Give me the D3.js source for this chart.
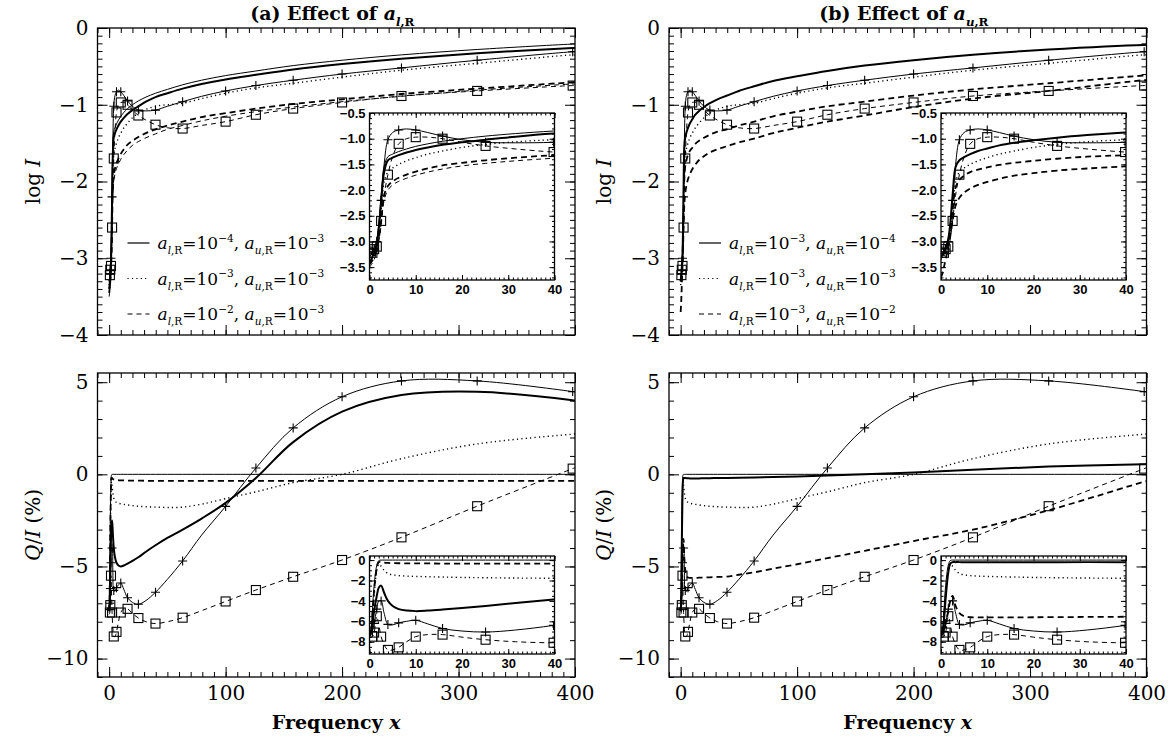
<!DOCTYPE html>
<html>
<head>
<meta charset="utf-8">
<script src="https://cdn.jsdelivr.net/npm/d3@7"></script>
<style>body{margin:0;background:#fff}</style>
</head>
<body>
<div id="chart"></div>
<script>
// frequency grid shared by all curves
const freq = [0,0.4,0.63,1,1.58,2,2.51,3.16,3.98,5,6.31,8,10,12.6,15.8,20,25.1,31.6,39.8,50,63.1,79.4,100,126,158,200,251,316,398,400];
// frequencies that carry a + or square symbol
const markFreq = [0.63,1,1.58,2.51,3.98,6.31,10,15.8,25.1,39.8,63.1,100,126,158,200,251,316,398];

// log I
const logPlus   = [-3.3,-3.25,-3.2,-3.15,-3.0,-2.7,-2.2,-1.5,-1.02,-0.88,-0.83,-0.81,-0.83,-0.88,-0.95,-1.02,-1.07,-1.08,-1.07,-1.02,-0.96,-0.89,-0.82,-0.75,-0.68,-0.6,-0.52,-0.42,-0.31,-0.31];
const logSquare = [-3.3,-3.25,-3.22,-3.15,-3.1,-2.95,-2.6,-2.1,-1.7,-1.35,-1.1,-1.0,-0.97,-0.97,-1.0,-1.07,-1.14,-1.2,-1.26,-1.3,-1.31,-1.27,-1.22,-1.13,-1.05,-0.97,-0.886,-0.82,-0.75,-0.75];
const logDotted = [-3.35,-3.3,-3.28,-3.22,-3.1,-2.85,-2.4,-1.85,-1.65,-1.57,-1.5,-1.43,-1.37,-1.3,-1.24,-1.17,-1.11,-1.06,-1.02,-1.0,-0.98,-0.92,-0.85,-0.78,-0.72,-0.64,-0.55,-0.46,-0.35,-0.35];
const logSolidA = [-3.4,-3.35,-3.3,-3.22,-3.05,-2.75,-2.25,-1.65,-1.42,-1.37,-1.32,-1.27,-1.22,-1.17,-1.12,-1.07,-1.02,-0.96,-0.9,-0.85,-0.79,-0.73,-0.67,-0.61,-0.54,-0.47,-0.4,-0.33,-0.26,-0.26];
const logThinA  = [-3.3,-3.25,-3.2,-3.12,-2.95,-2.65,-2.1,-1.55,-1.35,-1.3,-1.25,-1.2,-1.15,-1.1,-1.05,-1.0,-0.95,-0.9,-0.85,-0.8,-0.74,-0.68,-0.62,-0.56,-0.49,-0.42,-0.35,-0.28,-0.21,-0.21];
const logDashA  = [-3.45,-3.4,-3.37,-3.3,-3.15,-2.95,-2.6,-2.1,-1.92,-1.83,-1.76,-1.7,-1.64,-1.58,-1.52,-1.47,-1.42,-1.37,-1.32,-1.27,-1.22,-1.16,-1.11,-1.05,-0.99,-0.93,-0.86,-0.79,-0.71,-0.71];
const logDashA2 = [-3.5,-3.45,-3.42,-3.35,-3.2,-3.0,-2.7,-2.2,-2.0,-1.9,-1.83,-1.77,-1.71,-1.65,-1.59,-1.53,-1.48,-1.43,-1.38,-1.32,-1.27,-1.21,-1.15,-1.09,-1.03,-0.96,-0.89,-0.81,-0.73,-0.73];
const logSolidB = [-3.3,-3.25,-3.2,-3.12,-2.95,-2.65,-2.1,-1.55,-1.42,-1.36,-1.3,-1.24,-1.19,-1.13,-1.08,-1.03,-0.98,-0.93,-0.88,-0.82,-0.76,-0.69,-0.63,-0.56,-0.49,-0.42,-0.35,-0.28,-0.22,-0.22];
const logDashB1 = [-3.3,-3.25,-3.22,-3.15,-3.0,-2.75,-2.4,-1.95,-1.8,-1.72,-1.65,-1.6,-1.56,-1.51,-1.47,-1.43,-1.39,-1.35,-1.32,-1.27,-1.22,-1.15,-1.09,-1.02,-0.96,-0.88,-0.8,-0.72,-0.62,-0.62];
const logDashB2 = [-3.7,-3.6,-3.5,-3.35,-3.1,-2.9,-2.6,-2.3,-2.15,-2.05,-1.97,-1.9,-1.84,-1.78,-1.72,-1.67,-1.62,-1.58,-1.54,-1.49,-1.44,-1.37,-1.3,-1.22,-1.14,-1.03,-0.92,-0.82,-0.68,-0.68];

// Q/I (%)
const qiPlus   = [-7.5,-7.3,-7.0,-6.2,-4.8,-4.0,-4.0,-5.2,-6.3,-6.35,-6.15,-6.0,-5.9,-6.25,-6.7,-6.95,-7.05,-6.85,-6.4,-5.7,-4.7,-3.3,-1.74,0.34,2.52,4.21,5.07,5.07,4.49,4.47];
const qiSquare = [-7.6,-7.55,-7.5,-7.1,-5.5,-6.3,-7.5,-8.3,-8.8,-8.8,-8.55,-8.0,-7.5,-7.3,-7.3,-7.55,-7.8,-8.0,-8.1,-8.0,-7.78,-7.4,-6.9,-6.28,-5.56,-4.65,-3.42,-1.73,0.31,0.36];
const qiDotted = [-7.4,-7.0,-6.0,-3.5,-1.0,-0.4,-0.6,-1.0,-1.3,-1.45,-1.52,-1.57,-1.6,-1.63,-1.66,-1.7,-1.73,-1.76,-1.78,-1.8,-1.78,-1.62,-1.32,-0.95,-0.45,0.0,0.85,1.65,2.18,2.19];
const qiZero   = [-7.4,-6.5,-5.0,-2.5,-0.5,-0.05,0,0,0,0,0,0,0,0,0,0,0,0,0,0,0,0,0,0,0,0,0,0,0,0];
const qiSolidA = [-7.4,-7.0,-6.3,-5.0,-3.5,-2.7,-2.5,-3.2,-4.0,-4.5,-4.8,-4.95,-5.0,-4.95,-4.85,-4.7,-4.5,-4.2,-3.85,-3.45,-3.0,-2.4,-1.55,-0.2,1.75,3.4,4.3,4.48,4.02,4.0];
const qiDashA  = [-7.4,-6.8,-5.5,-3.0,-0.8,-0.2,-0.2,-0.25,-0.28,-0.3,-0.31,-0.32,-0.33,-0.33,-0.34,-0.34,-0.34,-0.35,-0.35,-0.35,-0.35,-0.35,-0.35,-0.35,-0.35,-0.35,-0.35,-0.35,-0.35,-0.35];
const qiSolidB = [-7.4,-7.0,-6.0,-3.8,-1.2,-0.35,-0.2,-0.2,-0.2,-0.21,-0.21,-0.22,-0.22,-0.22,-0.22,-0.21,-0.21,-0.2,-0.2,-0.19,-0.17,-0.15,-0.12,-0.07,0.0,0.1,0.25,0.42,0.55,0.55];
const qiDashB  = [-7.4,-7.1,-6.8,-6.2,-5.0,-4.0,-3.5,-4.5,-5.2,-5.5,-5.6,-5.62,-5.62,-5.62,-5.61,-5.6,-5.59,-5.57,-5.55,-5.45,-5.32,-5.12,-4.88,-4.55,-4.15,-3.62,-3.0,-1.95,-0.4,-0.37];

// legend exponents
const legendA = [["−4","−3"],["−3","−3"],["−2","−3"]];
const legendB = [["−3","−4"],["−3","−3"],["−3","−2"]];

const styles = {
  thin:   {w: 1, dash: null},
  thick:  {w: 2, dash: null},
  dotted: {w: 1.4, dash: "1.2,3.2"},
  dashed: {w: 1.8, dash: "6,4"},
  thinDash: {w: 1, dash: "5,4"}
};

const svg = d3.select("#chart").append("svg")
    .attr("width", 1171).attr("height", 739)
    .style("font-family", "DejaVu Serif");
svg.append("rect").attr("width", 1171).attr("height", 739).attr("fill", "#fff");

const colLeft = [97.5, 669], plotW = 477.5;
const rowTop = [28, 373], rowH = [307, 304];
const insetDX = 272, insetW = 185, insetTop = [113, 556], insetH = [167, 98];

function rich(sel, parts, size) {
  let shift = 0;
  parts.forEach(([t, k]) => {
    const ts = sel.append("tspan").text(t);
    let target = 0;
    if (k.sub) target = size * 0.3;
    if (k.sup) target = -size * 0.42;
    ts.attr("dy", target - shift);
    shift = target;
    if (k.sub || k.sup) ts.attr("font-size", size * 0.62);
    if (k.i) ts.attr("font-style", "italic");
    if (k.b) ts.attr("font-weight", "bold");
  });
}

let clipId = 0;
function drawSeries(g, x, y, w, h, series) {
  const id = "clip" + (clipId++);
  g.append("clipPath").attr("id", id).append("rect").attr("width", w).attr("height", h);
  const cg = g.append("g").attr("clip-path", `url(#${id})`);
  const line = d3.line().x(d => x(d[0])).y(d => y(d[1])).curve(d3.curveCatmullRom.alpha(0.5));
  const marks = new Set(markFreq);
  series.forEach(s => {
    const pts = freq.map((f, i) => [f, s.v[i]]);
    const st = styles[s.style];
    cg.append("path").attr("d", line(pts)).attr("fill", "none")
      .attr("stroke", "#000").attr("stroke-width", st.w)
      .attr("stroke-dasharray", st.dash);
    if (s.mark) {
      const mp = pts.filter(p => marks.has(p[0]));
      if (s.mark === "plus") {
        cg.selectAll(null).data(mp).join("path")
          .attr("d", d => `M${x(d[0]) - 4.5},${y(d[1])}h9M${x(d[0])},${y(d[1]) - 4.5}v9`)
          .attr("stroke", "#000").attr("stroke-width", 1.1);
      } else {
        cg.selectAll(null).data(mp).join("rect")
          .attr("x", d => x(d[0]) - 4.5).attr("y", d => y(d[1]) - 4.5)
          .attr("width", 9).attr("height", 9)
          .attr("fill", "none").attr("stroke", "#000").attr("stroke-width", 1.1);
      }
    }
  });
}

function addAxes(g, x, y, w, h, c) {
  const mk = (axis, vals, len, tr, lab, pad, fmt) => {
    axis.tickValues(vals).tickSize(-len).tickSizeOuter(0).tickPadding(pad || 3);
    axis.tickFormat(lab ? fmt : "");
    const s = g.append("g").attr("transform", tr).call(axis);
    s.select(".domain").remove();
    s.selectAll("line").attr("stroke", "#000").attr("stroke-width", 1);
    s.selectAll("text").attr("fill", "#000").style("font-family", c.font)
      .style("font-size", c.size + "px").style("font-weight", c.weight || "normal");
    return s;
  };
  [[c.xMin, c.minLen], [c.xMaj, c.majLen]].forEach(([v, l], k) => {
    mk(d3.axisBottom(x), v, l, `translate(0,${h})`, k === 1 && c.xLab, c.xPad, c.xFmt);
    mk(d3.axisTop(x), v, l, `translate(0,0)`, false);
  });
  [[c.yMin, c.minLen], [c.yMaj, c.majLen]].forEach(([v, l], k) => {
    mk(d3.axisLeft(y), v, l, `translate(0,0)`, k === 1, c.yPad, c.yFmt);
    mk(d3.axisRight(y), v, l, `translate(${w},0)`, false);
  });
  g.append("rect").attr("width", w).attr("height", h)
    .attr("fill", "none").attr("stroke", "#000").attr("stroke-width", 1.3);
}

function panel(left, top, w, h, xDom, yDom, series, c, inset) {
  const g = svg.append("g").attr("transform", `translate(${left},${top})`);
  const x = d3.scaleLinear().domain(xDom).range([0, w]);
  const y = d3.scaleLinear().domain(yDom).range([h, 0]);
  if (inset) g.append("rect").attr("width", w).attr("height", h).attr("fill", "#fff");
  drawSeries(g, x, y, w, h, series);
  addAxes(g, x, y, w, h, c);
  return g;
}

const mainX = {xMaj: [0,100,200,300,400], xMin: d3.range(-10, 401, 10), majLen: 10, minLen: 5,
  font: "DejaVu Serif", size: 20, xPad: 9, yPad: 9, xFmt: d3.format("d"), yFmt: d3.format("d")};
const topCfg = {...mainX, xLab: false, yMaj: [-4,-3,-2,-1,0], yMin: d3.range(-40, 1, 1).map(v => v / 10)};
const botCfg = {...mainX, xLab: true, yMaj: [-10,-5,0,5], yMin: d3.range(-11, 6, 1)};
const insX = {xMaj: [0,10,20,30,40], xMin: d3.range(0, 41, 1), majLen: 5, minLen: 2.5,
  font: "Liberation Sans", size: 13, weight: "bold", xLab: true, xPad: 5, yPad: 4, xFmt: d3.format("d")};
const insTop = {...insX, yMaj: [-3.5,-3,-2.5,-2,-1.5,-1,-0.5], yMin: d3.range(-37, -4, 1).map(v => v / 10), yFmt: d3.format(".1f")};
const insBot = {...insX, yMaj: [-8,-6,-4,-2,0], yMin: d3.range(-18, 1, 1).map(v => v / 2), yFmt: d3.format("d")};

const topSeries = [
  [
    {v: logPlus, style: "thin", mark: "plus"},
    {v: logSquare, style: "thinDash", mark: "square"},
    {v: logThinA, style: "thin"},
    {v: logSolidA, style: "thick"},
    {v: logDotted, style: "dotted"},
    {v: logDashA, style: "dashed"},
    {v: logDashA2, style: "thinDash"}
  ],
  [
    {v: logPlus, style: "thin", mark: "plus"},
    {v: logSquare, style: "thinDash", mark: "square"},
    {v: logSolidB, style: "thick"},
    {v: logDotted, style: "dotted"},
    {v: logDashB1, style: "dashed"},
    {v: logDashB2, style: "dashed"}
  ]
];
const botSeries = [
  [
    {v: qiZero, style: "thin"},
    {v: qiPlus, style: "thin", mark: "plus"},
    {v: qiSquare, style: "thinDash", mark: "square"},
    {v: qiSolidA, style: "thick"},
    {v: qiDotted, style: "dotted"},
    {v: qiDashA, style: "dashed"}
  ],
  [
    {v: qiZero, style: "thin"},
    {v: qiPlus, style: "thin", mark: "plus"},
    {v: qiSquare, style: "thinDash", mark: "square"},
    {v: qiSolidB, style: "thick"},
    {v: qiDotted, style: "dotted"},
    {v: qiDashB, style: "dashed"}
  ]
];

[0, 1].forEach(col => {
  const L = colLeft[col];
  panel(L, rowTop[0], plotW, rowH[0], [-10, 400], [-4, 0], topSeries[col], topCfg);
  panel(L + insetDX, insetTop[0], insetW, insetH[0], [0, 40], [-3.75, -0.5], topSeries[col], insTop, true);
  panel(L, rowTop[1], plotW, rowH[1], [-10, 400], [-11, 5.5], botSeries[col], botCfg);
  panel(L + insetDX, insetTop[1], insetW, insetH[1], [0, 40], [-9.2, 0.4], botSeries[col], insBot, true);

  // title
  const t = svg.append("text").attr("x", L + plotW / 2 - 4).attr("y", 20)
    .attr("text-anchor", "middle").style("font-size", "19px").style("font-weight", "bold");
  rich(t, [[col ? "(b) Effect of " : "(a) Effect of ", {}], ["a", {i: true}],
           [col ? "u" : "l", {sub: true, i: true}], [",R", {sub: true}]], 19);

  // y titles
  const yl = svg.append("text").attr("transform", `translate(${L - 58},${rowTop[0] + rowH[0] / 2}) rotate(-90)`)
    .attr("text-anchor", "middle").style("font-size", "20px");
  rich(yl, [["log ", {}], ["I", {i: true}]], 20);
  const yq = svg.append("text").attr("transform", `translate(${L - 58},${rowTop[1] + rowH[1] / 2}) rotate(-90)`)
    .attr("text-anchor", "middle").style("font-size", "20px");
  rich(yq, [["Q", {i: true}], ["/", {}], ["I", {i: true}], [" (%)", {}]], 20);

  // x title
  const xt = svg.append("text").attr("x", L + plotW / 2).attr("y", 729)
    .attr("text-anchor", "middle").style("font-size", "19px").style("font-weight", "bold");
  rich(xt, [["Frequency ", {}], ["x", {i: true}]], 19);

  // legend
  const leg = col ? legendB : legendA;
  const legStyles = ["thin", "dotted", "dashed"];
  leg.forEach((e, i) => {
    const yy = 243 + i * 35.5;
    const st = styles[legStyles[i]];
    svg.append("line").attr("x1", L + 30).attr("x2", L + 52).attr("y1", yy).attr("y2", yy)
      .attr("stroke", "#000").attr("stroke-width", 1.2)
      .attr("stroke-dasharray", legStyles[i] === "dashed" ? "5,4" : st.dash);
    const tx = svg.append("text").attr("x", L + 60).attr("y", yy + 6).style("font-size", "17px");
    rich(tx, [["a", {i: true}], ["l", {sub: true, i: true}], [",R", {sub: true}], ["=10", {}], [e[0], {sup: true}],
              [",  ", {}], ["a", {i: true}], ["u", {sub: true, i: true}], [",R", {sub: true}], ["=10", {}], [e[1], {sup: true}]], 17);
  });
});
</script>
</body>
</html>
